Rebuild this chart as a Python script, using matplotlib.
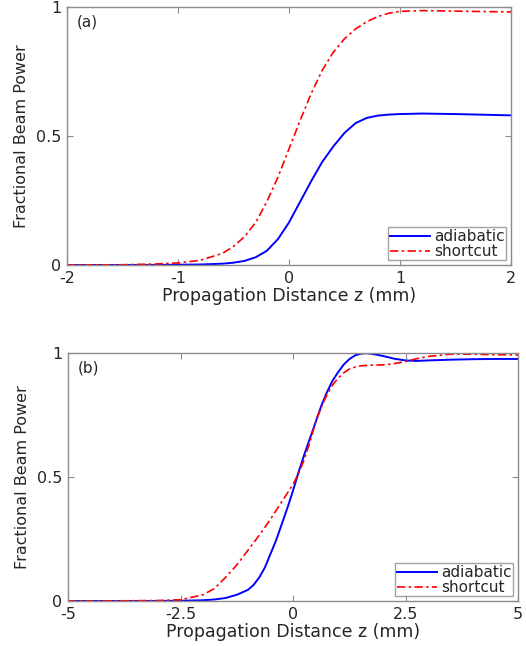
import numpy as np
import matplotlib
matplotlib.use('Agg')
import matplotlib.pyplot as plt

plt.rcParams['font.family'] = ['DejaVu Sans']

# panel (a)
z_a = [-2.0, -1.5, -1.2, -1.0, -0.8, -0.6, -0.5, -0.4, -0.3, -0.2, -0.1, 0.0,
       0.1, 0.2, 0.3, 0.4, 0.5, 0.6, 0.7, 0.8, 0.9, 1.0, 1.2, 1.5, 1.8, 2.0]
adiabatic_a = [0.0, 0.0, 0.0, 0.001, 0.002, 0.005, 0.009, 0.016, 0.03, 0.055, 0.1, 0.165,
               0.245, 0.325, 0.40, 0.46, 0.512, 0.55, 0.57, 0.579, 0.583, 0.585, 0.587,
               0.585, 0.582, 0.58]
shortcut_a = [0.0, 0.001, 0.004, 0.008, 0.018, 0.045, 0.072, 0.11, 0.165, 0.245, 0.34, 0.45,
              0.56, 0.665, 0.755, 0.825, 0.877, 0.915, 0.943, 0.963, 0.976, 0.983, 0.986,
              0.984, 0.982, 0.981]

# panel (b)
z_b = [-5.0, -4.0, -3.0, -2.5, -2.0, -1.75, -1.5, -1.25, -1.0, -0.875, -0.75, -0.625,
       -0.5, -0.375, -0.25, -0.125, 0.0, 0.125, 0.25, 0.375, 0.5, 0.625, 0.75, 0.875,
       1.0, 1.125, 1.25, 1.375, 1.5, 1.625, 1.75, 2.0, 2.25, 2.5, 2.75, 3.0, 3.5, 4.0,
       4.5, 5.0]
adiabatic_b = [0.0, 0.0, 0.0, 0.001, 0.003, 0.006, 0.012, 0.025, 0.045, 0.065, 0.095, 0.135,
               0.19, 0.245, 0.31, 0.375, 0.445, 0.52, 0.59, 0.655, 0.72, 0.785, 0.84, 0.887,
               0.922, 0.953, 0.975, 0.99, 0.997, 0.999, 0.997, 0.988, 0.977, 0.97, 0.968,
               0.97, 0.973, 0.975, 0.976, 0.976]
shortcut_b = [0.0, 0.0005, 0.002, 0.005, 0.025, 0.05, 0.095, 0.145, 0.205, 0.235, 0.265, 0.297,
              0.33, 0.365, 0.40, 0.435, 0.47, 0.515, 0.57, 0.64, 0.72, 0.78, 0.83, 0.87,
              0.898, 0.92, 0.935, 0.943, 0.948, 0.95, 0.951, 0.952, 0.957, 0.966, 0.977,
              0.986, 0.995, 0.995, 0.993, 0.992]

panels = [
    ('(a)', z_a, adiabatic_a, shortcut_a, [-2, -1, 0, 1, 2], ['-2', '-1', '0', '1', '2'],
     [67/526, 1 - 265/646, 444/526, 258/646]),
    ('(b)', z_b, adiabatic_b, shortcut_b, [-5, -2.5, 0, 2.5, 5], ['-5', '-2.5', '0', '2.5', '5'],
     [68/526, 1 - 601/646, 450/526, 248/646]),
]

fig = plt.figure(figsize=(5.26, 6.46), dpi=100)
edge = '#8c8c8c'
txt = '#262626'

for tag, z, ad, sc, xt, xtl, rect in panels:
    ax = fig.add_axes(rect)
    ax.plot(z, ad, color='#0000ff', lw=1.4, label='adiabatic')
    ax.plot(z, sc, color='#ff0000', lw=1.2, ls=(0, (5, 2, 1.5, 2)), label='shortcut')
    ax.set_xlim(xt[0], xt[-1])
    ax.set_ylim(0, 1)
    ax.set_xticks(xt)
    ax.set_xticklabels(xtl)
    ax.set_yticks([0, 0.5, 1])
    ax.set_yticklabels(['0', '0.5', '1'])
    ax.tick_params(direction='in', top=True, right=True, length=4, width=0.8,
                   color=edge, labelcolor=txt, labelsize=11.5)
    ax.tick_params(axis='x', pad=4)
    ax.tick_params(axis='y', pad=4)
    for s in ax.spines.values():
        s.set_color(edge)
        s.set_linewidth(1.0)
    ax.set_xlabel('Propagation Distance z (mm)', fontsize=12.5, color=txt, labelpad=1)
    ax.set_ylabel('Fractional Beam Power', fontsize=11.5, color=txt, labelpad=5)
    ax.text(0.022, 0.97, tag, transform=ax.transAxes, ha='left', va='top',
            fontsize=11, color=txt)
    leg = ax.legend(loc='lower right', fontsize=11, frameon=True, fancybox=False,
                    borderpad=0.1, handlelength=2.6, handletextpad=0.3,
                    labelspacing=0.0, borderaxespad=0.3)
    leg.get_frame().set_edgecolor(edge)
    leg.get_frame().set_linewidth(1.0)
    for t in leg.get_texts():
        t.set_color(txt)

fig.savefig('out.png', dpi=100)
